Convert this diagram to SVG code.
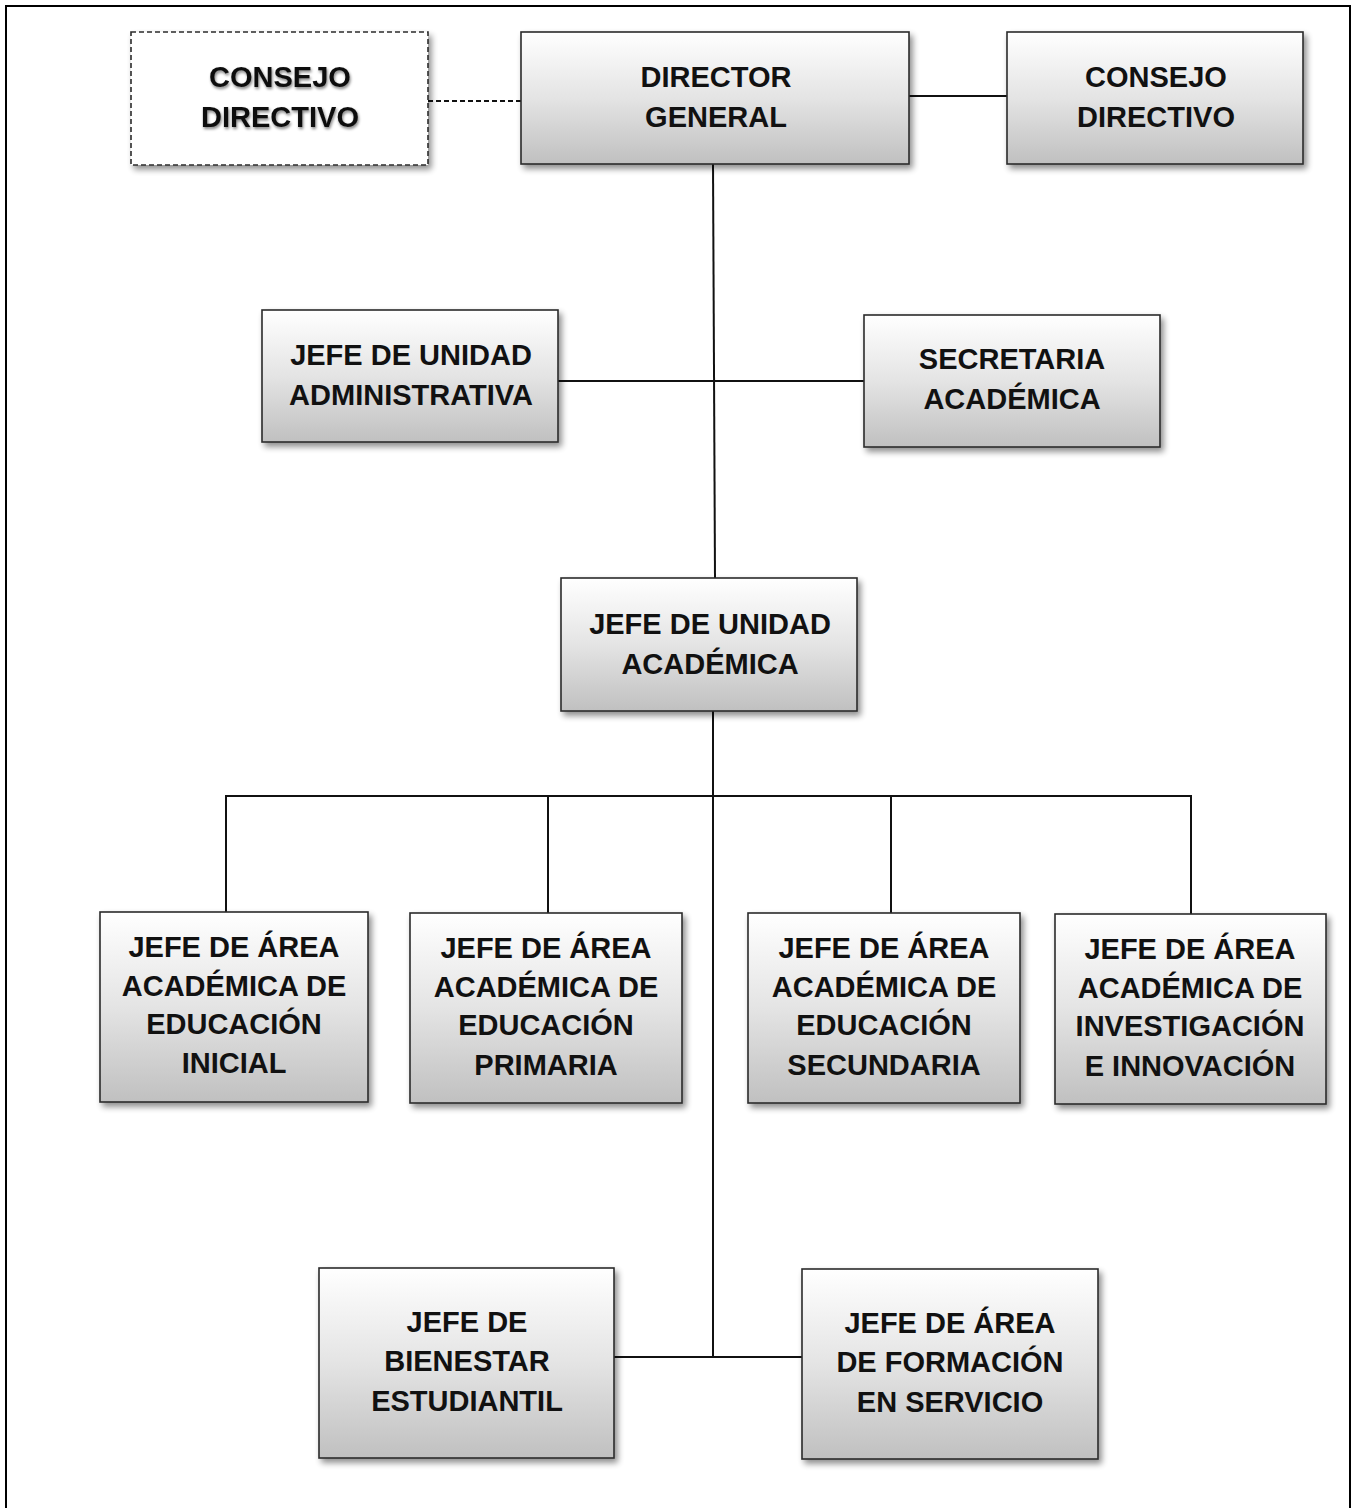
<svg xmlns="http://www.w3.org/2000/svg" width="1357" height="1508" viewBox="0 0 1357 1508">
<defs>
<linearGradient id="g" x1="0" y1="0" x2="0" y2="1">
<stop offset="0" stop-color="#ffffff"/>
<stop offset="0.5" stop-color="#e4e4e4"/>
<stop offset="1" stop-color="#c0c0c0"/>
</linearGradient>
<filter id="sh" x="-10%" y="-10%" width="125%" height="130%">
<feGaussianBlur in="SourceAlpha" stdDeviation="3"/>
<feOffset dx="3" dy="4" result="b"/>
<feComponentTransfer><feFuncA type="linear" slope="0.45"/></feComponentTransfer>
<feMerge><feMergeNode/><feMergeNode in="SourceGraphic"/></feMerge>
</filter>
<filter id="tsh" x="-10%" y="-20%" width="120%" height="150%">
<feGaussianBlur in="SourceAlpha" stdDeviation="1.5"/>
<feOffset dx="1" dy="2"/>
<feComponentTransfer><feFuncA type="linear" slope="0.5"/></feComponentTransfer>
<feMerge><feMergeNode/><feMergeNode in="SourceGraphic"/></feMerge>
</filter>
</defs>
<style>
.box{fill:url(#g);stroke:#2b2b2b;stroke-width:1.6}
.dbox{fill:#ffffff;stroke:#2b2b2b;stroke-width:1.6;stroke-dasharray:5 3}
.t{font-family:"Liberation Sans",Arial,sans-serif;font-weight:bold;font-size:29px;fill:#111;text-anchor:middle}
.c{stroke:#111;stroke-width:2;fill:none}
.frame{stroke:#000;stroke-width:2;fill:none}
</style>
<rect x="0" y="0" width="1357" height="1508" fill="#ffffff"/>
<path class="frame" d="M6,1510 V6 H1350 V1510"/>
<g id="connectors">
<path class="c" d="M428,101 H521" stroke-dasharray="5 3"/>
<path class="c" d="M909,96 H1007"/>
<path class="c" d="M713,164 L715,578"/>
<path class="c" d="M558,381 H864"/>
<path class="c" d="M713,711 V1358"/>
<path class="c" d="M226,912 V796 H1191 V914"/>
<path class="c" d="M548,796 V913"/>
<path class="c" d="M891,796 V913"/>
<path class="c" d="M614,1357 H802"/>
</g>
<g id="consejo-directivo-1">
<rect class="dbox" x="131" y="32" width="297" height="133" filter="url(#sh)"/>
<g filter="url(#tsh)"><text class="t" x="280" y="87">CONSEJO</text><text class="t" x="280" y="127">DIRECTIVO</text></g>
</g>
<g id="director-general">
<rect class="box" x="521" y="32" width="388" height="132" filter="url(#sh)"/>
<text class="t" x="716" y="87">DIRECTOR</text><text class="t" x="716" y="127">GENERAL</text>
</g>
<g id="consejo-directivo-2">
<rect class="box" x="1007" y="32" width="296" height="132" filter="url(#sh)"/>
<text class="t" x="1156" y="87">CONSEJO</text><text class="t" x="1156" y="127">DIRECTIVO</text>
</g>
<g id="jefe-unidad-administrativa">
<rect class="box" x="262" y="310" width="296" height="132" filter="url(#sh)"/>
<text class="t" x="411" y="365">JEFE DE UNIDAD</text><text class="t" x="411" y="405">ADMINISTRATIVA</text>
</g>
<g id="secretaria-academica">
<rect class="box" x="864" y="315" width="296" height="132" filter="url(#sh)"/>
<text class="t" x="1012" y="369">SECRETARIA</text><text class="t" x="1012" y="409">ACADÉMICA</text>
</g>
<g id="jefe-unidad-academica">
<rect class="box" x="561" y="578" width="296" height="133" filter="url(#sh)"/>
<text class="t" x="710" y="634">JEFE DE UNIDAD</text><text class="t" x="710" y="674">ACADÉMICA</text>
</g>
<g id="area-inicial">
<rect class="box" x="100" y="912" width="268" height="190" filter="url(#sh)"/>
<text class="t" x="234" y="957">JEFE DE ÁREA</text><text class="t" x="234" y="996">ACADÉMICA DE</text><text class="t" x="234" y="1034">EDUCACIÓN</text><text class="t" x="234" y="1073">INICIAL</text>
</g>
<g id="area-primaria">
<rect class="box" x="410" y="913" width="272" height="190" filter="url(#sh)"/>
<text class="t" x="546" y="958">JEFE DE ÁREA</text><text class="t" x="546" y="997">ACADÉMICA DE</text><text class="t" x="546" y="1035">EDUCACIÓN</text><text class="t" x="546" y="1075">PRIMARIA</text>
</g>
<g id="area-secundaria">
<rect class="box" x="748" y="913" width="272" height="190" filter="url(#sh)"/>
<text class="t" x="884" y="958">JEFE DE ÁREA</text><text class="t" x="884" y="997">ACADÉMICA DE</text><text class="t" x="884" y="1035">EDUCACIÓN</text><text class="t" x="884" y="1075">SECUNDARIA</text>
</g>
<g id="area-investigacion">
<rect class="box" x="1055" y="914" width="271" height="190" filter="url(#sh)"/>
<text class="t" x="1190" y="959">JEFE DE ÁREA</text><text class="t" x="1190" y="998">ACADÉMICA DE</text><text class="t" x="1190" y="1036">INVESTIGACIÓN</text><text class="t" x="1190" y="1076">E INNOVACIÓN</text>
</g>
<g id="bienestar-estudiantil">
<rect class="box" x="319" y="1268" width="295" height="190" filter="url(#sh)"/>
<text class="t" x="467" y="1332">JEFE DE</text><text class="t" x="467" y="1371">BIENESTAR</text><text class="t" x="467" y="1411">ESTUDIANTIL</text>
</g>
<g id="formacion-servicio">
<rect class="box" x="802" y="1269" width="296" height="190" filter="url(#sh)"/>
<text class="t" x="950" y="1333">JEFE DE ÁREA</text><text class="t" x="950" y="1372">DE FORMACIÓN</text><text class="t" x="950" y="1412">EN SERVICIO</text>
</g>
</svg>
